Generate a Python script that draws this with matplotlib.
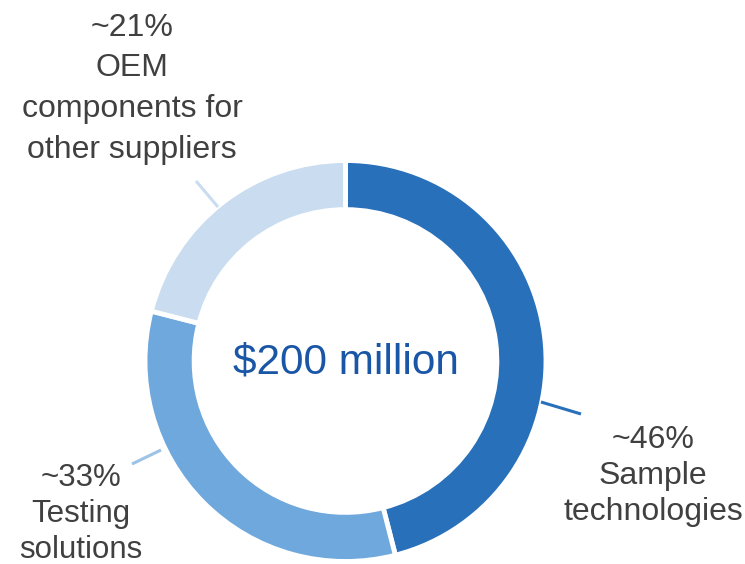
import matplotlib.pyplot as plt

plt.rcParams['font.family'] = ['Liberation Sans', 'DejaVu Sans']

# segment data (clockwise from 12 o'clock)
segments = ['Sample\ntechnologies', 'Testing\nsolutions', 'OEM\ncomponents for\nother suppliers']
shares = [46, 33, 21]
colors = ['#2970BA', '#6FA8DC', '#C9DCF0']
line_colors = ['#2970BA', '#9DC3E6', '#C9DCF0']
total_label = '$200 million'

W, H = 745, 564
fig = plt.figure(figsize=(W / 100, H / 100), dpi=100)
ax = fig.add_axes([0, 0, 1, 1])
ax.set_xlim(0, W)
ax.set_ylim(0, H)
ax.set_aspect('equal')
ax.axis('off')

cx, cy, r = 345.5, H - 361, 200.5
ax.pie(shares, colors=colors, startangle=90, counterclock=False,
       center=(cx, cy), radius=r,
       wedgeprops=dict(width=r * 0.245, edgecolor='white', linewidth=3.5))
ax.set_xlim(0, W)
ax.set_ylim(0, H)

ax.text(cx, H - 374, total_label, ha='center', va='baseline',
        fontsize=30.5, color='#1A56A6')

# leader lines and labels (pixel positions, y measured from top;
# label y is the baseline of the last line)
leaders = [((541, 402), (581, 414)), ((161, 450), (132, 464)), ((218, 207), (196, 181))]
label_pos = [(653, 520), (81, 558), (132, 158)]
spacing = [1.27, 1.27, 1.47]
sizes = [23, 22.5, 23]
for i, name in enumerate(segments):
    (x0, y0), (x1, y1) = leaders[i]
    ax.plot([x0, x1], [H - y0, H - y1], color=line_colors[i], lw=2.2,
            solid_capstyle='butt')
    lx, ly = label_pos[i]
    ax.text(lx, H - ly, f'~{shares[i]}%\n{name}', ha='center', va='baseline',
            fontsize=sizes[i], color='#404040', linespacing=spacing[i])

fig.savefig('out.png', dpi=100)
